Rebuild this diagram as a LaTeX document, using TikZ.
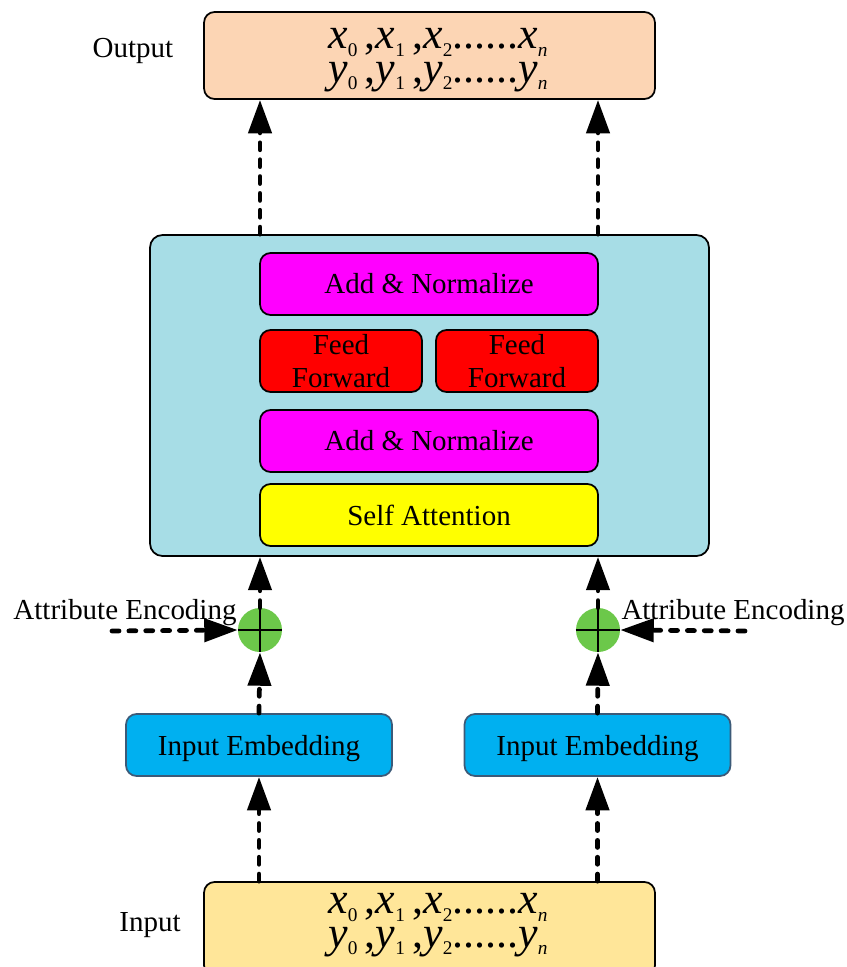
\documentclass[tikz,border=0pt]{standalone}
\usepackage{fontspec}
\setmainfont{Liberation Serif}
\usetikzlibrary{arrows.meta}

\definecolor{outfill}{HTML}{FCD5B4}
\definecolor{infill}{HTML}{FFE699}
\definecolor{encfill}{HTML}{A7DDE6}
\definecolor{normfill}{HTML}{FF00FF}
\definecolor{attnfill}{HTML}{FFFF00}
\definecolor{fffill}{HTML}{FF0000}
\definecolor{embfill}{HTML}{00B0F0}
\definecolor{embline}{HTML}{3C5A78}
\definecolor{sumfill}{HTML}{6CC84A}

\newcommand{\lowidx}[1]{\raisebox{-4.5pt}{\fontsize{11pt}{11pt}\selectfont #1}}
\newcommand{\seqline}[1]{\textit{#1}\lowidx{0}\,,\textit{#1}\lowidx{1}\,,\textit{#1}\lowidx{2}......\textit{#1}\lowidx{\textit{n}}}

\tikzset{
  box/.style={draw=black, line width=1pt, rounded corners=6pt, inner sep=0pt,
    align=center, font=\fontsize{16.5pt}{19pt}\selectfont},
  seqbox/.style={box, minimum width=9.02cm},
  seqtext/.style={inner sep=0pt, align=center, font=\fontsize{25pt}{19pt}\selectfont},
  layerbox/.style={box, minimum width=6.76cm, minimum height=1.24cm},
  ffbox/.style={box, fill=fffill, minimum width=3.24cm, minimum height=1.24cm},
  embbox/.style={box, draw=embline, fill=embfill, minimum width=5.32cm, minimum height=1.24cm, text depth=0pt},
  sumnode/.style={circle, fill=sumfill, minimum size=0.88cm, inner sep=0pt},
  lbl/.style={font=\fontsize{16.5pt}{19pt}\selectfont},
  flow/.style={line width=2.7pt, dash pattern=on 4pt off 5.6pt, line cap=round,
    -{Triangle[length=19pt,width=13pt]}}
}

\begin{document}
\begin{tikzpicture}[x=0.02cm, y=-0.02cm]
\useasboundingbox (0,0) rectangle (846,967);

% output
\node (out) at (429.5,55.5) [seqbox, fill=outfill, minimum height=1.74cm] {};
\node (outtxt) at (438,60) [seqtext] {\seqline{x}\\\seqline{y}};
\node (outlbl) at (133,51) [lbl] {Output};

% encoder block
\node (enc) at (429.5,395.5) [box, fill=encfill, rounded corners=7pt, minimum width=11.18cm, minimum height=6.42cm] {};
\node (an2) at (429,284) [layerbox, fill=normfill] {Add \& Normalize};
\node (ff1) at (341,361) [ffbox] {Feed\\Forward};
\node (ff2) at (517,361) [ffbox] {Feed\\Forward};
\node (an1) at (429,441) [layerbox, fill=normfill] {Add \& Normalize};
\node (sa) at (429,515) [layerbox, fill=attnfill] {Self Attention};

% attribute sums
\node (c1) at (260,630) [sumnode] {};
\node (c2) at (598,630) [sumnode] {};
\draw [line width=1pt] (c1.west) -- (c1.east) (c1.north) -- (c1.south);
\draw [line width=1pt] (c2.west) -- (c2.east) (c2.north) -- (c2.south);
\node (att1) at (125,613) [lbl] {Attribute Encoding};
\node (att2) at (733,613) [lbl] {Attribute Encoding};
\coordinate (a1) at (112,631);
\coordinate (a2) at (745,631);

% embeddings
\node (e1) at (259,745) [embbox] {Input Embedding};
\node (e2) at (597.5,745) [embbox] {Input Embedding};

% input
\node (in) at (429.5,929) [seqbox, fill=infill, minimum height=1.88cm] {};
\node (intxt) at (438,925) [seqtext] {\seqline{x}\\\seqline{y}};
\node (inlbl) at (150,925) [lbl] {Input};

\draw [flow] (in.north -| e1) -- (e1.south);
\draw [flow] (in.north -| e2) -- (e2.south);
\draw [flow] (e1.north) -- (c1.south);
\draw [flow] (e2.north) -- (c2.south);
\draw [flow] (a1) -- (c1.west);
\draw [flow] (a2) -- (c2.east);
\draw [flow] (c1.north) -- (enc.south -| c1);
\draw [flow] (c2.north) -- (enc.south -| c2);
\draw [flow] (enc.north -| c1) -- (out.south -| c1);
\draw [flow] (enc.north -| c2) -- (out.south -| c2);
\end{tikzpicture}
\end{document}
